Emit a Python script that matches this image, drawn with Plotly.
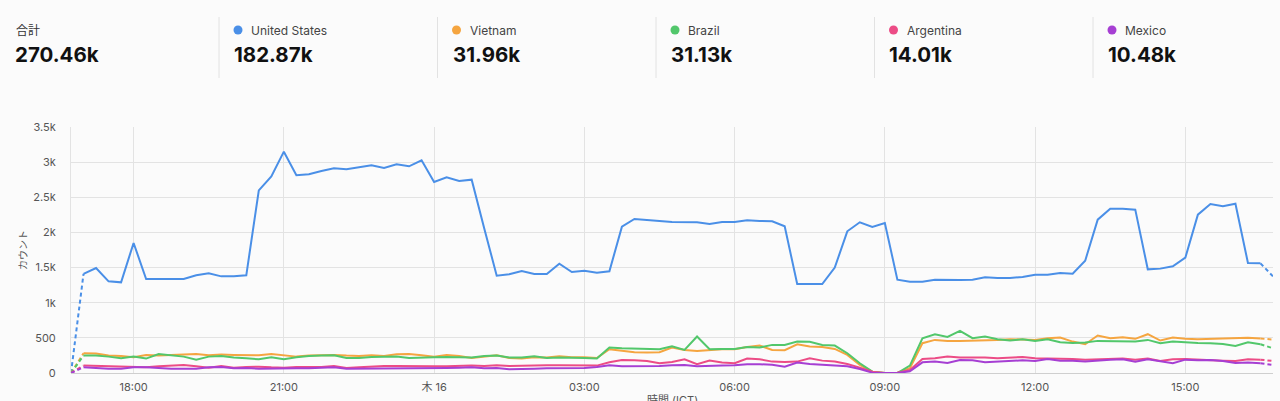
import pandas as pd
import plotly.graph_objects as go

# ---------------- data ----------------
times = pd.date_range("2025-10-15 16:45", periods=97, freq="15min")

us = [0,
      1410, 1494, 1304, 1290, 1850, 1337, 1337, 1337, 1337, 1390, 1418, 1375,
      1375, 1390, 2599, 2798, 3149, 2813, 2827, 2875, 2912, 2898, 2926, 2955,
      2917, 2969, 2941, 3026, 2718, 2784, 2732, 2751, 2060, 1385, 1404, 1451,
      1409, 1409, 1556, 1437, 1456, 1428, 1447, 2082, 2191, 2172, 2163, 2149,
      2144, 2144, 2120, 2149, 2149, 2172, 2163, 2158, 2087, 1266, 1266, 1266,
      1499, 2016, 2144, 2077, 2134, 1328, 1300, 1300, 1328, 1323, 1323, 1328,
      1361, 1352, 1352, 1366, 1399, 1399, 1423, 1413, 1598, 2182, 2338, 2338,
      2324, 1475, 1485, 1518, 1641, 2253, 2405, 2372, 2409, 1565, 1560, 1375]

vietnam = [0,
      281, 276, 248, 243, 224, 257, 248, 257, 267, 271, 252, 262,
      257, 252, 252, 271, 257, 233, 248, 252, 257, 248, 243, 252,
      243, 267, 271, 252, 233, 257, 243, 214, 228, 252, 214, 205,
      224, 219, 238, 224, 224, 214, 338, 319, 295, 290, 295, 362,
      328, 314, 328, 338, 338, 371, 390, 328, 324, 409, 376, 371,
      343, 257, 114, 19, 0, 5, 67, 424, 471, 457, 457, 462,
      457, 471, 481, 471, 471, 495, 505, 447, 409, 533, 495, 509,
      486, 552, 462, 505, 486, 481, 486, 486, 495, 500, 490, 476]

brazil = [0,
      248, 248, 233, 209, 233, 205, 271, 248, 233, 190, 233, 243,
      219, 209, 195, 224, 195, 224, 243, 248, 252, 214, 214, 228,
      228, 233, 214, 214, 224, 228, 224, 219, 243, 248, 219, 219,
      238, 214, 219, 219, 214, 205, 362, 352, 347, 338, 338, 381,
      328, 519, 338, 343, 343, 371, 362, 400, 400, 447, 443, 400,
      390, 281, 138, 19, 0, 0, 105, 495, 552, 514, 600, 495,
      519, 481, 462, 481, 457, 481, 438, 428, 433, 457, 457, 452,
      447, 471, 424, 447, 433, 428, 424, 414, 386, 438, 409, 352]

argentina = [0,
      105, 100, 90, 86, 86, 81, 95, 100, 114, 95, 76, 100,
      76, 86, 90, 81, 76, 86, 81, 86, 100, 71, 81, 95,
      100, 100, 95, 100, 95, 95, 105, 105, 100, 109, 100, 105,
      109, 109, 109, 105, 109, 105, 152, 186, 181, 171, 138, 157,
      195, 124, 176, 148, 138, 205, 195, 162, 157, 162, 209, 176,
      162, 128, 76, 19, 0, 5, 43, 200, 209, 233, 219, 224,
      219, 209, 219, 228, 209, 209, 209, 200, 190, 195, 195, 205,
      190, 205, 171, 195, 200, 190, 190, 176, 171, 195, 190, 171]

mexico = [0,
      81, 71, 62, 62, 81, 81, 71, 62, 62, 62, 81, 86,
      67, 71, 62, 67, 62, 67, 67, 71, 81, 62, 62, 62,
      62, 67, 67, 71, 71, 71, 76, 81, 67, 71, 52, 62,
      62, 67, 67, 67, 71, 86, 109, 95, 95, 100, 100, 109,
      114, 95, 105, 105, 109, 124, 124, 119, 90, 148, 128, 119,
      114, 95, 57, 5, 0, 0, 24, 152, 162, 143, 186, 181,
      152, 162, 171, 181, 171, 200, 176, 176, 162, 181, 190, 195,
      162, 195, 171, 138, 190, 181, 186, 171, 143, 148, 138, 114]

series_names = ["United States", "Vietnam", "Brazil", "Argentina", "Mexico"]
series_values = [us, vietnam, brazil, argentina, mexico]
series_colors = ["#4a8fe7", "#f5a540", "#52c76b", "#ec4c86", "#a63fd3"]
series_totals = ["182.87k", "31.96k", "31.13k", "14.01k", "10.48k"]
total_label = "合計"
total_value = "270.46k"

x_tick_vals = ["2025-10-15 18:00", "2025-10-15 21:00", "2025-10-16 00:00",
               "2025-10-16 03:00", "2025-10-16 06:00", "2025-10-16 09:00",
               "2025-10-16 12:00", "2025-10-16 15:00"]
x_tick_text = ["18:00", "21:00", "木 16", "03:00", "06:00", "09:00", "12:00", "15:00"]
y_tick_vals = [0, 500, 1000, 1500, 2000, 2500, 3000, 3500]
y_tick_text = ["0", "500", "1k", "1.5k", "2k", "2.5k", "3k", "3.5k"]

# ---------------- geometry ----------------
W, H = 1280, 401
L, R, T, B = 71, 7, 127, 28
PW, PH = W - L - R, H - T - B


def px(x):
    return (x - L) / PW


def py(y):
    return (H - B - y) / PH


FONT = "Inter, Noto Sans CJK JP, sans-serif"
BG = "#fbfbfb"

fig = go.Figure()
n = len(times)
for name, vals, col in zip(series_names, series_values, series_colors):
    fig.add_trace(go.Scatter(x=times[1:n - 1], y=vals[1:n - 1], mode="lines", name=name,
                             line=dict(color=col, width=2), showlegend=False))
    fig.add_trace(go.Scatter(x=times[0:2], y=vals[0:2], mode="lines", name=name,
                             line=dict(color=col, width=2, dash="4px,3px"), showlegend=False))
    fig.add_trace(go.Scatter(x=times[n - 2:n], y=vals[n - 2:n], mode="lines", name=name,
                             line=dict(color=col, width=2, dash="4px,3px"), showlegend=False))

annotations = []
shapes = []
# header: total
annotations.append(dict(x=px(14), y=py(30), xref="paper", yref="paper", text=total_label,
                        showarrow=False, xanchor="left", yanchor="middle",
                        font=dict(family=FONT, size=12, color="#333333")))
annotations.append(dict(x=px(13), y=py(55), xref="paper", yref="paper",
                        text="<b>" + total_value + "</b>",
                        showarrow=False, xanchor="left", yanchor="middle",
                        font=dict(family=FONT, size=20.5, color="#111111")))
seps = [219, 437.5, 656, 874.5, 1093]
for sx, name, col, tot in zip(seps, series_names, series_colors, series_totals):
    shapes.append(dict(type="line", xref="paper", yref="paper", x0=px(sx), x1=px(sx),
                       y0=py(17), y1=py(78), line=dict(color="#e2e2e2", width=1)))
    r = 4.5
    cx, cy = sx + 19, 30
    shapes.append(dict(type="circle", xref="paper", yref="paper",
                       x0=px(cx - r), x1=px(cx + r), y0=py(cy + r), y1=py(cy - r),
                       fillcolor=col, line=dict(width=0)))
    annotations.append(dict(x=px(sx + 30), y=py(30), xref="paper", yref="paper", text=name,
                            showarrow=False, xanchor="left", yanchor="middle",
                            font=dict(family=FONT, size=12, color="#444444")))
    annotations.append(dict(x=px(sx + 13), y=py(55), xref="paper", yref="paper",
                            text="<b>" + tot + "</b>",
                            showarrow=False, xanchor="left", yanchor="middle",
                            font=dict(family=FONT, size=20.5, color="#111111")))

# axis titles
annotations.append(dict(x=px(23), y=0.5, xref="paper", yref="paper", text="カウント",
                        textangle=-90, showarrow=False, xanchor="center", yanchor="middle",
                        font=dict(family=FONT, size=10, color="#555555")))
annotations.append(dict(x=0.5, y=py(400), xref="paper", yref="paper", text="時間 (ICT)",
                        showarrow=False, xanchor="center", yanchor="middle",
                        font=dict(family=FONT, size=11, color="#555555")))

fig.update_layout(
    width=W, height=H,
    margin=dict(l=L, r=R, t=T, b=B, pad=0),
    paper_bgcolor=BG, plot_bgcolor=BG,
    font=dict(family=FONT, size=11, color="#555555"),
    annotations=annotations, shapes=shapes,
    hovermode="x unified",
)
fig.update_xaxes(
    range=[times[0], times[-1]], tickvals=x_tick_vals, ticktext=x_tick_text,
    showgrid=True, gridcolor="#e3e3e3", gridwidth=1, zeroline=False,
    showline=False, ticks="", ticklabelstandoff=6, automargin=False,
    tickfont=dict(family=FONT, size=11, color="#555555"),
)
fig.update_yaxes(
    range=[0, 3500], tickvals=y_tick_vals, ticktext=y_tick_text,
    showgrid=True, gridcolor="#e3e3e3", gridwidth=1,
    zeroline=True, zerolinecolor="#cfcfcf", zerolinewidth=1,
    showline=True, linecolor="#e3e3e3", linewidth=1,
    ticks="", ticklabelstandoff=12, automargin=False,
    tickfont=dict(family=FONT, size=11, color="#555555"),
)

fig.write_html(
    "out.html",
    config={"displayModeBar": False},
    post_script="document.body.style.margin='0';document.body.style.background='" + BG + "';",
)
